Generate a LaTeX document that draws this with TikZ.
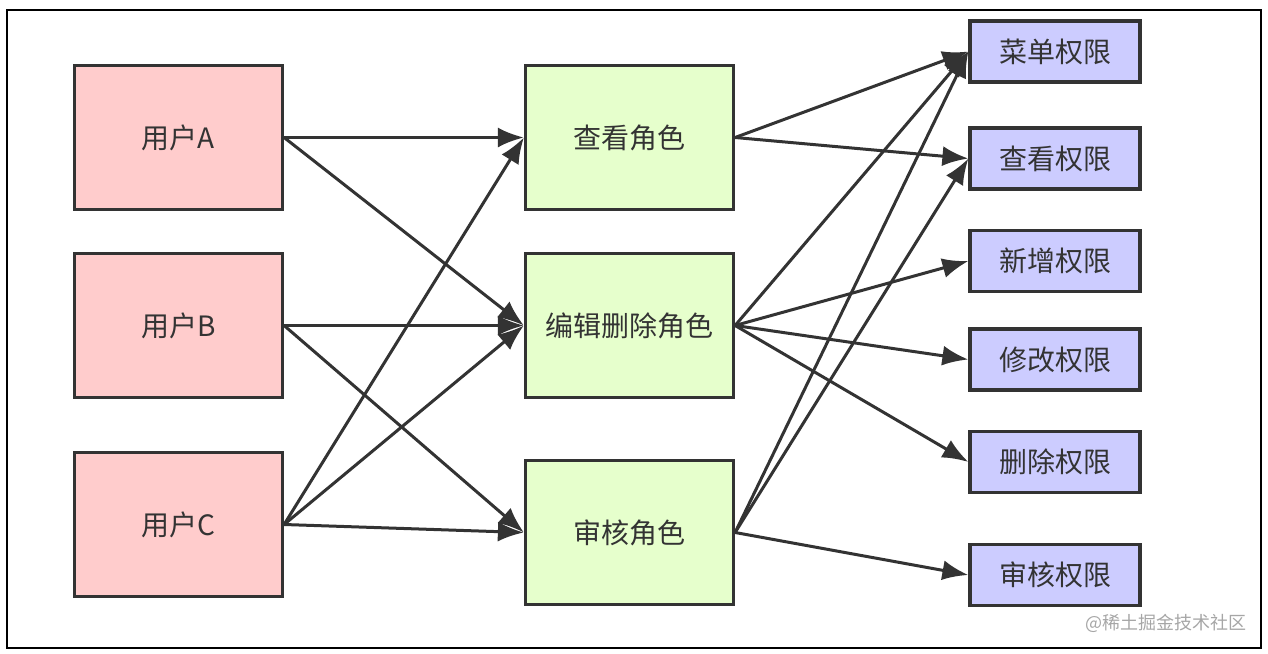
\documentclass[tikz,border=0pt]{standalone}
\usepackage{fontspec}
\newfontfamily\cjk{Noto Sans CJK SC}
\usepackage{tikz}
\usetikzlibrary{arrows.meta}
\definecolor{usercol}{HTML}{FFCCCC}
\definecolor{rolecol}{HTML}{E6FFCC}
\definecolor{permcol}{HTML}{CCCCFF}
\definecolor{linecol}{HTML}{333333}

\begin{document}
\begin{tikzpicture}[x = 1pt , y = -1pt ,
    box/.style = {draw = linecol , line width = 3.2pt , text = linecol , inner sep = 0pt , font = \cjk\fontsize{28}{32}\selectfont},
    user/.style = {box , fill = usercol , minimum width = 208pt , minimum height = 144pt},
    role/.style = {box , fill = rolecol , minimum width = 208pt , minimum height = 144pt},
    perm/.style = {box , fill = permcol , minimum width = 170pt , minimum height = 61pt},
    link/.style = {draw = linecol , line width = 3pt , -{Latex[length = 26pt , width = 20pt]}}]
    \useasboundingbox (0,0) rectangle (1268,653);
    \draw[line width = 1.3pt] (7,10) rectangle (1261,648); % frame

    % users
    \node[user] (userA) at (178.5,137.5) {用户A};
    \node[user] (userB) at (178.5,325.5) {用户B};
    \node[user] (userC) at (178.5,524.5) {用户C};

    % roles
    \node[role] (viewRole) at (629.5,137.5) {查看角色};
    \node[role] (editRole) at (629.5,325.5) {编辑删除角色};
    \node[role] (auditRole) at (629.5,532.5) {审核角色};

    % permissions
    \node[perm] (menuPerm) at (1055,51.5) {菜单权限};
    \node[perm] (viewPerm) at (1055,158.5) {查看权限};
    \node[perm] (addPerm) at (1055,261) {新增权限};
    \node[perm] (editPerm) at (1055,359.5) {修改权限};
    \node[perm] (delPerm) at (1055,462) {删除权限};
    \node[perm] (auditPerm) at (1055,575) {审核权限};

    % user -> role
    \draw[link] (userA.east) -- (viewRole.west);
    \draw[link] (userA.east) -- (editRole.west);
    \draw[link] (userB.east) -- (editRole.west);
    \draw[link] (userB.east) -- (auditRole.west);
    \draw[link] (userC.east) -- (viewRole.west);
    \draw[link] (userC.east) -- (editRole.west);
    \draw[link] (userC.east) -- (auditRole.west);

    % role -> permission
    \draw[link] (viewRole.east) -- (menuPerm.west);
    \draw[link] (viewRole.east) -- (viewPerm.west);
    \draw[link] (editRole.east) -- (menuPerm.west);
    \draw[link] (editRole.east) -- (addPerm.west);
    \draw[link] (editRole.east) -- (editPerm.west);
    \draw[link] (editRole.east) -- (delPerm.west);
    \draw[link] (auditRole.east) -- (menuPerm.west);
    \draw[link] (auditRole.east) -- (viewPerm.west);
    \draw[link] (auditRole.east) -- (auditPerm.west);

    \node[anchor = east , text = black!35 , font = \cjk\fontsize{18}{20}\selectfont] (watermark) at (1250,623) {@稀土掘金技术社区};
\end{tikzpicture}
\end{document}
